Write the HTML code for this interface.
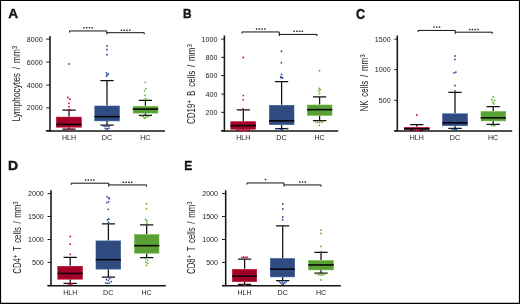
<!DOCTYPE html>
<html><head><meta charset="utf-8"><title>Figure</title>
<style>
html,body{margin:0;padding:0;background:#fff;}
body{width:520px;height:304px;overflow:hidden;font-family:"Liberation Sans", sans-serif;}
#fig{display:none;}
svg{position:absolute;left:0;top:0;display:block;will-change:transform;}
svg text{font-family:"Liberation Sans", sans-serif;fill:#1a1a1a;}
</style></head>
<body>
<svg width="520" height="304" viewBox="0 0 520 304">
<text x="0" y="0" font-size="12.8" font-weight="bold" fill="#000" stroke="#000" stroke-width="0.35" transform="translate(8.2 18.1) scale(1.07 1.02)">A</text>
<text id="yl0" transform="translate(20.0 121.6) rotate(-90) scale(0.8053 1)" font-size="10.3" word-spacing="2.0" xml:space="preserve"><tspan>Lymphocytes / mm</tspan><tspan font-size="8.03" dy="-2.6">3</tspan></text>
<path d="M50 36V131.5" stroke="#141414" stroke-width="1.55" fill="none"/>
<path d="M46.2 130.95H165" stroke="#151515" stroke-width="1.4" fill="none"/>
<path d="M46.2 39.1H50" stroke="#141414" stroke-width="0.95"/>
<text x="42.6" y="41.55" font-size="7.6" text-anchor="end" textLength="15.80" lengthAdjust="spacingAndGlyphs">8000</text>
<path d="M46.2 62.1H50" stroke="#141414" stroke-width="0.95"/>
<text x="42.6" y="64.55" font-size="7.6" text-anchor="end" textLength="15.80" lengthAdjust="spacingAndGlyphs">6000</text>
<path d="M46.2 85.1H50" stroke="#141414" stroke-width="0.95"/>
<text x="42.6" y="87.55" font-size="7.6" text-anchor="end" textLength="15.80" lengthAdjust="spacingAndGlyphs">4000</text>
<path d="M46.2 107.85H50" stroke="#141414" stroke-width="0.95"/>
<text x="42.6" y="110.3" font-size="7.6" text-anchor="end" textLength="15.80" lengthAdjust="spacingAndGlyphs">2000</text>
<path d="M46.2 130.6H50" stroke="#141414" stroke-width="0.95"/>
<path d="M69.5 32.35V30.75H106.75V34.1M106.75 32.5H144.25V34.1" stroke="#111" stroke-width="1.0" fill="none" transform="translate(0 0.2)"/>
<rect x="83.17" y="26.95" width="1.6" height="1.6" rx="0.5" fill="#2a2a2a"/>
<rect x="85.92" y="26.95" width="1.6" height="1.6" rx="0.5" fill="#2a2a2a"/>
<rect x="88.67" y="26.95" width="1.6" height="1.6" rx="0.5" fill="#2a2a2a"/>
<rect x="91.42" y="26.95" width="1.6" height="1.6" rx="0.5" fill="#2a2a2a"/>
<rect x="120.67" y="29.45" width="1.6" height="1.6" rx="0.5" fill="#2a2a2a"/>
<rect x="123.42" y="29.45" width="1.6" height="1.6" rx="0.5" fill="#2a2a2a"/>
<rect x="126.17" y="29.45" width="1.6" height="1.6" rx="0.5" fill="#2a2a2a"/>
<rect x="128.92" y="29.45" width="1.6" height="1.6" rx="0.5" fill="#2a2a2a"/>
<path d="M69 110V116.6M69 127.3V129M62.375 110H75.625M62.375 129H75.625" stroke="#111" stroke-width="1.25" fill="none"/>
<rect x="56.4" y="117.1" width="24.89999999999999" height="10.100000000000003" fill="#A30028" stroke="#BE0F30" stroke-width="0.6"/>
<path d="M56.1 124.45H81.6" stroke="#050505" stroke-width="1.55"/>
<path d="M107 80.6V105.5M107 121V125M100.375 80.6H113.625M100.375 125H113.625" stroke="#111" stroke-width="1.25" fill="none"/>
<rect x="94.8" y="106.0" width="24.6" height="14.9" fill="#2F4B80" stroke="#3A5A9C" stroke-width="0.6"/>
<path d="M94.5 116.65H119.7" stroke="#050505" stroke-width="1.55"/>
<path d="M145.4 100.4V105.8M145.4 113.2V115.3M138.775 100.4H152.025M138.775 115.3H152.025" stroke="#111" stroke-width="1.25" fill="none"/>
<rect x="133.10000000000002" y="106.3" width="24.799999999999976" height="6.800000000000006" fill="#589F35" stroke="#76BB47" stroke-width="0.6"/>
<path d="M132.8 109.15H158.2" stroke="#050505" stroke-width="1.55"/>
<circle cx="69" cy="64" r="0.9" fill="#C4122F"/>
<circle cx="67.8" cy="97.5" r="0.9" fill="#C4122F"/>
<circle cx="69.8" cy="99.2" r="0.9" fill="#C4122F"/>
<circle cx="68.9" cy="103.3" r="0.9" fill="#C4122F"/>
<circle cx="68.9" cy="106.6" r="0.9" fill="#C4122F"/>
<circle cx="68.2" cy="109.8" r="0.9" fill="#C4122F"/>
<circle cx="69.8" cy="109.4" r="0.9" fill="#C4122F"/>
<circle cx="65.5" cy="129.6" r="0.9" fill="#C4122F"/>
<circle cx="67.5" cy="129.3" r="0.9" fill="#C4122F"/>
<circle cx="69.5" cy="129.7" r="0.9" fill="#C4122F"/>
<circle cx="71.5" cy="129.2" r="0.9" fill="#C4122F"/>
<circle cx="73" cy="129.5" r="0.9" fill="#C4122F"/>
<circle cx="107" cy="46" r="0.9" fill="#2B4C9B"/>
<circle cx="107" cy="49.75" r="0.9" fill="#2B4C9B"/>
<circle cx="107" cy="54.75" r="0.9" fill="#2B4C9B"/>
<circle cx="106.4" cy="72.8" r="0.9" fill="#2B4C9B"/>
<circle cx="108.3" cy="74" r="0.9" fill="#2B4C9B"/>
<circle cx="107.2" cy="75" r="0.9" fill="#2B4C9B"/>
<circle cx="106.5" cy="76.2" r="0.9" fill="#2B4C9B"/>
<circle cx="103.2" cy="125.8" r="0.9" fill="#2B4C9B"/>
<circle cx="105" cy="126.2" r="0.9" fill="#2B4C9B"/>
<circle cx="107" cy="126" r="0.9" fill="#2B4C9B"/>
<circle cx="109" cy="126.2" r="0.9" fill="#2B4C9B"/>
<circle cx="105.4" cy="128.4" r="0.9" fill="#2B4C9B"/>
<circle cx="107.2" cy="128.6" r="0.9" fill="#2B4C9B"/>
<circle cx="109" cy="128.3" r="0.9" fill="#2B4C9B"/>
<circle cx="107" cy="130" r="0.9" fill="#2B4C9B"/>
<circle cx="145.2" cy="82.3" r="0.9" fill="#63B42D"/>
<circle cx="145.9" cy="88.6" r="0.9" fill="#63B42D"/>
<circle cx="144.5" cy="90.8" r="0.9" fill="#63B42D"/>
<circle cx="145.1" cy="95.4" r="0.9" fill="#63B42D"/>
<circle cx="144.5" cy="99.6" r="0.9" fill="#63B42D"/>
<circle cx="146" cy="98.7" r="0.9" fill="#63B42D"/>
<circle cx="141.5" cy="116.2" r="0.9" fill="#63B42D"/>
<circle cx="143.3" cy="116.8" r="0.9" fill="#63B42D"/>
<circle cx="145.2" cy="117.6" r="0.9" fill="#63B42D"/>
<circle cx="147" cy="117" r="0.9" fill="#63B42D"/>
<circle cx="148.8" cy="116.3" r="0.9" fill="#63B42D"/>
<circle cx="144.4" cy="118.3" r="0.9" fill="#63B42D"/>
<text x="69" y="140.25" font-size="7.4" text-anchor="middle" textLength="14.0" lengthAdjust="spacingAndGlyphs">HLH</text>
<text x="107" y="140.25" font-size="7.4" text-anchor="middle" textLength="10.4" lengthAdjust="spacingAndGlyphs">DC</text>
<text x="145.3" y="140.25" font-size="7.4" text-anchor="middle" textLength="10.2" lengthAdjust="spacingAndGlyphs">HC</text>
<text x="0" y="0" font-size="12.8" font-weight="bold" fill="#000" stroke="#000" stroke-width="0.35" transform="translate(182.9 18.1) scale(0.93 1.02)">B</text>
<text id="yl1" transform="translate(194.6 124.0) rotate(-90) scale(0.7811 1)" font-size="10.3" word-spacing="2.0" xml:space="preserve"><tspan>CD19</tspan><tspan font-size="8.03" dy="-2.6">+</tspan><tspan dy="2.6"> B cells / mm</tspan><tspan font-size="8.03" dy="-2.6">3</tspan></text>
<path d="M224.4 35.5V131.5" stroke="#141414" stroke-width="1.55" fill="none"/>
<path d="M221.2 130.95H338.3" stroke="#151515" stroke-width="1.4" fill="none"/>
<path d="M221.2 39.1H224.4" stroke="#141414" stroke-width="0.95"/>
<text x="217.4" y="41.55" font-size="7.6" text-anchor="end" textLength="15.80" lengthAdjust="spacingAndGlyphs">1000</text>
<path d="M221.2 57.35H224.4" stroke="#141414" stroke-width="0.95"/>
<text x="217.4" y="59.8" font-size="7.6" text-anchor="end" textLength="11.85" lengthAdjust="spacingAndGlyphs">800</text>
<path d="M221.2 75.6H224.4" stroke="#141414" stroke-width="0.95"/>
<text x="217.4" y="78.05" font-size="7.6" text-anchor="end" textLength="11.85" lengthAdjust="spacingAndGlyphs">600</text>
<path d="M221.2 94.1H224.4" stroke="#141414" stroke-width="0.95"/>
<text x="217.4" y="96.55" font-size="7.6" text-anchor="end" textLength="11.85" lengthAdjust="spacingAndGlyphs">400</text>
<path d="M221.2 112.35H224.4" stroke="#141414" stroke-width="0.95"/>
<text x="217.4" y="114.8" font-size="7.6" text-anchor="end" textLength="11.85" lengthAdjust="spacingAndGlyphs">200</text>
<path d="M221.2 130.6H224.4" stroke="#141414" stroke-width="0.95"/>
<path d="M242 33.35V31.75H279.25V35.85M279.25 34.25H317V35.85" stroke="#111" stroke-width="1.0" fill="none" transform="translate(0 0.2)"/>
<rect x="255.82" y="28.20" width="1.6" height="1.6" rx="0.5" fill="#2a2a2a"/>
<rect x="258.57" y="28.20" width="1.6" height="1.6" rx="0.5" fill="#2a2a2a"/>
<rect x="261.32" y="28.20" width="1.6" height="1.6" rx="0.5" fill="#2a2a2a"/>
<rect x="264.07" y="28.20" width="1.6" height="1.6" rx="0.5" fill="#2a2a2a"/>
<rect x="293.32" y="30.45" width="1.6" height="1.6" rx="0.5" fill="#2a2a2a"/>
<rect x="296.07" y="30.45" width="1.6" height="1.6" rx="0.5" fill="#2a2a2a"/>
<rect x="298.82" y="30.45" width="1.6" height="1.6" rx="0.5" fill="#2a2a2a"/>
<rect x="301.57" y="30.45" width="1.6" height="1.6" rx="0.5" fill="#2a2a2a"/>
<path d="M243.3 109.8V121.2M243.3 129.3V130M236.675 109.8H249.925M236.675 130H249.925" stroke="#111" stroke-width="1.25" fill="none"/>
<rect x="230.8" y="121.7" width="24.9" height="7.500000000000009" fill="#A30028" stroke="#BE0F30" stroke-width="0.6"/>
<path d="M230.5 125.65H256" stroke="#050505" stroke-width="1.55"/>
<path d="M281.6 81.5V104.8M281.6 124.8V128.5M274.975 81.5H288.225M274.975 128.5H288.225" stroke="#111" stroke-width="1.25" fill="none"/>
<rect x="269.3" y="105.3" width="24.70000000000001" height="19.4" fill="#2F4B80" stroke="#3A5A9C" stroke-width="0.6"/>
<path d="M269 120.85000000000001H294.3" stroke="#050505" stroke-width="1.55"/>
<path d="M319.6 96.8V104.5M319.6 115.5V120.5M312.975 96.8H326.225M312.975 120.5H326.225" stroke="#111" stroke-width="1.25" fill="none"/>
<rect x="307.3" y="105.0" width="24.70000000000001" height="10.4" fill="#589F35" stroke="#76BB47" stroke-width="0.6"/>
<path d="M307 109.65H332.3" stroke="#050505" stroke-width="1.55"/>
<circle cx="243.25" cy="57.5" r="0.9" fill="#C4122F"/>
<circle cx="243.3" cy="95.6" r="0.9" fill="#C4122F"/>
<circle cx="243.2" cy="99.8" r="0.9" fill="#C4122F"/>
<circle cx="243" cy="108.8" r="0.9" fill="#C4122F"/>
<circle cx="238.6" cy="130.6" r="0.9" fill="#C4122F"/>
<circle cx="240.2" cy="130.7" r="0.9" fill="#C4122F"/>
<circle cx="241.8" cy="130.6" r="0.9" fill="#C4122F"/>
<circle cx="243.4" cy="130.7" r="0.9" fill="#C4122F"/>
<circle cx="245" cy="130.6" r="0.9" fill="#C4122F"/>
<circle cx="246.6" cy="130.7" r="0.9" fill="#C4122F"/>
<circle cx="248" cy="130.6" r="0.9" fill="#C4122F"/>
<circle cx="281.5" cy="51.25" r="0.9" fill="#2B4C9B"/>
<circle cx="281.4" cy="62.75" r="0.9" fill="#2B4C9B"/>
<circle cx="281.5" cy="74.5" r="0.9" fill="#2B4C9B"/>
<circle cx="280.6" cy="77.6" r="0.9" fill="#2B4C9B"/>
<circle cx="282.4" cy="78.2" r="0.9" fill="#2B4C9B"/>
<circle cx="281" cy="77" r="0.9" fill="#2B4C9B"/>
<circle cx="282.5" cy="77.6" r="0.9" fill="#2B4C9B"/>
<circle cx="276.5" cy="128.7" r="0.9" fill="#2B4C9B"/>
<circle cx="280.5" cy="129.4" r="0.9" fill="#2B4C9B"/>
<circle cx="282.5" cy="129.6" r="0.9" fill="#2B4C9B"/>
<circle cx="287.5" cy="128.6" r="0.9" fill="#2B4C9B"/>
<circle cx="319.5" cy="70.75" r="0.9" fill="#63B42D"/>
<circle cx="319.3" cy="88.4" r="0.9" fill="#63B42D"/>
<circle cx="320.2" cy="89.6" r="0.9" fill="#63B42D"/>
<circle cx="319" cy="91" r="0.9" fill="#63B42D"/>
<circle cx="319.5" cy="93.6" r="0.9" fill="#63B42D"/>
<circle cx="315.5" cy="121.8" r="0.9" fill="#63B42D"/>
<circle cx="317.5" cy="122.3" r="0.9" fill="#63B42D"/>
<circle cx="319.5" cy="122.5" r="0.9" fill="#63B42D"/>
<circle cx="321.5" cy="122" r="0.9" fill="#63B42D"/>
<circle cx="323" cy="121.5" r="0.9" fill="#63B42D"/>
<circle cx="319.3" cy="125.3" r="0.9" fill="#63B42D"/>
<text x="243.3" y="140.25" font-size="7.4" text-anchor="middle" textLength="14.0" lengthAdjust="spacingAndGlyphs">HLH</text>
<text x="281.5" y="140.25" font-size="7.4" text-anchor="middle" textLength="10.4" lengthAdjust="spacingAndGlyphs">DC</text>
<text x="319.6" y="140.25" font-size="7.4" text-anchor="middle" textLength="10.2" lengthAdjust="spacingAndGlyphs">HC</text>
<text x="0" y="0" font-size="12.8" font-weight="bold" fill="#000" stroke="#000" stroke-width="0.35" transform="translate(356.0 18.5) scale(0.98 1.08)">C</text>
<text id="yl2" transform="translate(367.6 111.6) rotate(-90) scale(0.7745 1)" font-size="10.3" word-spacing="2.0" xml:space="preserve"><tspan>NK cells / mm</tspan><tspan font-size="8.03" dy="-2.6">3</tspan></text>
<path d="M397.3 35.5V131.5" stroke="#141414" stroke-width="1.55" fill="none"/>
<path d="M394.3 130.95H512.2" stroke="#151515" stroke-width="1.4" fill="none"/>
<path d="M394.3 39.1H397.3" stroke="#141414" stroke-width="0.95"/>
<text x="390.6" y="41.55" font-size="7.6" text-anchor="end" textLength="15.80" lengthAdjust="spacingAndGlyphs">1500</text>
<path d="M394.3 69.6H397.3" stroke="#141414" stroke-width="0.95"/>
<text x="390.6" y="72.05" font-size="7.6" text-anchor="end" textLength="15.80" lengthAdjust="spacingAndGlyphs">1000</text>
<path d="M394.3 100.3H397.3" stroke="#141414" stroke-width="0.95"/>
<text x="390.6" y="102.75" font-size="7.6" text-anchor="end" textLength="11.85" lengthAdjust="spacingAndGlyphs">500</text>
<path d="M394.3 130.6H397.3" stroke="#141414" stroke-width="0.95"/>
<path d="M418 31.85V30.25H455.25V33.6M455.25 32H492.25V33.6" stroke="#111" stroke-width="1.0" fill="none" transform="translate(0 0.2)"/>
<rect x="433.20" y="26.20" width="1.6" height="1.6" rx="0.5" fill="#2a2a2a"/>
<rect x="435.95" y="26.20" width="1.6" height="1.6" rx="0.5" fill="#2a2a2a"/>
<rect x="438.70" y="26.20" width="1.6" height="1.6" rx="0.5" fill="#2a2a2a"/>
<rect x="468.82" y="28.70" width="1.6" height="1.6" rx="0.5" fill="#2a2a2a"/>
<rect x="471.57" y="28.70" width="1.6" height="1.6" rx="0.5" fill="#2a2a2a"/>
<rect x="474.32" y="28.70" width="1.6" height="1.6" rx="0.5" fill="#2a2a2a"/>
<rect x="477.07" y="28.70" width="1.6" height="1.6" rx="0.5" fill="#2a2a2a"/>
<path d="M416.8 124.5V126.8M416.8 129.8V130.2M410.175 124.5H423.425M410.175 130.2H423.425" stroke="#111" stroke-width="1.25" fill="none"/>
<rect x="404.3" y="127.3" width="24.9" height="2.400000000000014" fill="#A30028" stroke="#BE0F30" stroke-width="0.6"/>
<path d="M404 128.75H429.5" stroke="#050505" stroke-width="1.55"/>
<path d="M455 92.25V113.3M455 125.8V128.3M448.375 92.25H461.625M448.375 128.3H461.625" stroke="#111" stroke-width="1.25" fill="none"/>
<rect x="442.6" y="113.8" width="24.799999999999976" height="11.9" fill="#2F4B80" stroke="#3A5A9C" stroke-width="0.6"/>
<path d="M442.3 122.85000000000001H467.7" stroke="#050505" stroke-width="1.55"/>
<path d="M493.2 106.5V111M493.2 121V124.3M486.575 106.5H499.825M486.575 124.3H499.825" stroke="#111" stroke-width="1.25" fill="none"/>
<rect x="481.0" y="111.5" width="24.70000000000001" height="9.4" fill="#589F35" stroke="#76BB47" stroke-width="0.6"/>
<path d="M480.7 117.85000000000001H506" stroke="#050505" stroke-width="1.55"/>
<circle cx="416.75" cy="115" r="0.9" fill="#C4122F"/>
<circle cx="414.5" cy="130" r="0.9" fill="#C4122F"/>
<circle cx="416.5" cy="130.2" r="0.9" fill="#C4122F"/>
<circle cx="418.5" cy="130" r="0.9" fill="#C4122F"/>
<circle cx="455" cy="56" r="0.9" fill="#2B4C9B"/>
<circle cx="455" cy="59.5" r="0.9" fill="#2B4C9B"/>
<circle cx="454" cy="72.8" r="0.9" fill="#2B4C9B"/>
<circle cx="455.8" cy="72.2" r="0.9" fill="#2B4C9B"/>
<circle cx="455" cy="85.5" r="0.9" fill="#2B4C9B"/>
<circle cx="455" cy="91" r="0.9" fill="#2B4C9B"/>
<circle cx="452.5" cy="129.2" r="0.9" fill="#2B4C9B"/>
<circle cx="454.5" cy="129.6" r="0.9" fill="#2B4C9B"/>
<circle cx="456.5" cy="129.3" r="0.9" fill="#2B4C9B"/>
<circle cx="455.5" cy="130" r="0.9" fill="#2B4C9B"/>
<circle cx="493.3" cy="97" r="0.9" fill="#63B42D"/>
<circle cx="491.8" cy="99.6" r="0.9" fill="#63B42D"/>
<circle cx="494.8" cy="100.3" r="0.9" fill="#63B42D"/>
<circle cx="492.9" cy="102" r="0.9" fill="#63B42D"/>
<circle cx="493.9" cy="103.7" r="0.9" fill="#63B42D"/>
<circle cx="491.5" cy="125.3" r="0.9" fill="#63B42D"/>
<circle cx="493.3" cy="125.8" r="0.9" fill="#63B42D"/>
<circle cx="495" cy="125.3" r="0.9" fill="#63B42D"/>
<text x="416.8" y="140.25" font-size="7.4" text-anchor="middle" textLength="14.0" lengthAdjust="spacingAndGlyphs">HLH</text>
<text x="455" y="140.25" font-size="7.4" text-anchor="middle" textLength="10.4" lengthAdjust="spacingAndGlyphs">DC</text>
<text x="493.1" y="140.25" font-size="7.4" text-anchor="middle" textLength="10.2" lengthAdjust="spacingAndGlyphs">HC</text>
<text x="0" y="0" font-size="12.8" font-weight="bold" fill="#000" stroke="#000" stroke-width="0.35" transform="translate(8.0 170.3) scale(1.09 1.02)">D</text>
<text id="yl3" transform="translate(21 273.75) rotate(-90) scale(0.7572 1)" font-size="10.3" word-spacing="2.0" xml:space="preserve"><tspan>CD4</tspan><tspan font-size="8.03" dy="-2.6">+</tspan><tspan dy="2.6"> T cells / mm</tspan><tspan font-size="8.03" dy="-2.6">3</tspan></text>
<path d="M51 190.2V286.3" stroke="#141414" stroke-width="1.55" fill="none"/>
<path d="M47.5 285.75H165.8" stroke="#151515" stroke-width="1.4" fill="none"/>
<path d="M47.5 193.6H51" stroke="#141414" stroke-width="0.95"/>
<text x="43.8" y="196.05" font-size="7.6" text-anchor="end" textLength="15.80" lengthAdjust="spacingAndGlyphs">2000</text>
<path d="M47.5 216.5H51" stroke="#141414" stroke-width="0.95"/>
<text x="43.8" y="218.95000000000002" font-size="7.6" text-anchor="end" textLength="15.80" lengthAdjust="spacingAndGlyphs">1500</text>
<path d="M47.5 239.5H51" stroke="#141414" stroke-width="0.95"/>
<text x="43.8" y="241.95000000000002" font-size="7.6" text-anchor="end" textLength="15.80" lengthAdjust="spacingAndGlyphs">1000</text>
<path d="M47.5 262.40000000000003H51" stroke="#141414" stroke-width="0.95"/>
<text x="43.8" y="264.85" font-size="7.6" text-anchor="end" textLength="11.85" lengthAdjust="spacingAndGlyphs">500</text>
<path d="M47.5 285.40000000000003H51" stroke="#141414" stroke-width="0.95"/>
<path d="M71.25 184.6V183H108.75V186.35M108.75 184.75H146.5V186.35" stroke="#111" stroke-width="1.0" fill="none" transform="translate(0 0.2)"/>
<rect x="84.83" y="179.20" width="1.6" height="1.6" rx="0.5" fill="#2a2a2a"/>
<rect x="87.58" y="179.20" width="1.6" height="1.6" rx="0.5" fill="#2a2a2a"/>
<rect x="90.33" y="179.20" width="1.6" height="1.6" rx="0.5" fill="#2a2a2a"/>
<rect x="93.08" y="179.20" width="1.6" height="1.6" rx="0.5" fill="#2a2a2a"/>
<rect x="122.58" y="181.45" width="1.6" height="1.6" rx="0.5" fill="#2a2a2a"/>
<rect x="125.33" y="181.45" width="1.6" height="1.6" rx="0.5" fill="#2a2a2a"/>
<rect x="128.07" y="181.45" width="1.6" height="1.6" rx="0.5" fill="#2a2a2a"/>
<rect x="130.82" y="181.45" width="1.6" height="1.6" rx="0.5" fill="#2a2a2a"/>
<path d="M70.2 257.3V265.8M70.2 279.3V283.3M63.575 257.3H76.825M63.575 283.3H76.825" stroke="#111" stroke-width="1.25" fill="none"/>
<rect x="57.8" y="266.3" width="24.699999999999996" height="12.9" fill="#A30028" stroke="#BE0F30" stroke-width="0.6"/>
<path d="M57.5 273.45H82.8" stroke="#050505" stroke-width="1.55"/>
<path d="M108.4 223.8V240.4M108.4 269.2V277M101.775 223.8H115.025M101.775 277H115.025" stroke="#111" stroke-width="1.25" fill="none"/>
<rect x="96.0" y="240.9" width="24.699999999999996" height="28.19999999999998" fill="#2F4B80" stroke="#3A5A9C" stroke-width="0.6"/>
<path d="M95.7 259.65H121" stroke="#050505" stroke-width="1.55"/>
<path d="M146.7 224.8V234M146.7 253.3V257.5M140.075 224.8H153.325M140.075 257.5H153.325" stroke="#111" stroke-width="1.25" fill="none"/>
<rect x="134.5" y="234.5" width="24.50000000000002" height="18.70000000000001" fill="#589F35" stroke="#76BB47" stroke-width="0.6"/>
<path d="M134.2 245.65H159.3" stroke="#050505" stroke-width="1.55"/>
<circle cx="70.25" cy="236.5" r="0.9" fill="#C4122F"/>
<circle cx="70.2" cy="244.2" r="0.9" fill="#C4122F"/>
<circle cx="70.2" cy="254.3" r="0.9" fill="#C4122F"/>
<circle cx="68.5" cy="284" r="0.9" fill="#C4122F"/>
<circle cx="70.2" cy="284.3" r="0.9" fill="#C4122F"/>
<circle cx="72" cy="284" r="0.9" fill="#C4122F"/>
<circle cx="107" cy="196.8" r="0.9" fill="#2B4C9B"/>
<circle cx="108.8" cy="198" r="0.9" fill="#2B4C9B"/>
<circle cx="106.8" cy="202.6" r="0.9" fill="#2B4C9B"/>
<circle cx="108.6" cy="201.8" r="0.9" fill="#2B4C9B"/>
<circle cx="109.3" cy="198.6" r="0.9" fill="#2B4C9B"/>
<circle cx="108.3" cy="209.3" r="0.9" fill="#2B4C9B"/>
<circle cx="107.3" cy="219.8" r="0.9" fill="#2B4C9B"/>
<circle cx="108.8" cy="219" r="0.9" fill="#2B4C9B"/>
<circle cx="108.4" cy="222.2" r="0.9" fill="#2B4C9B"/>
<circle cx="106.5" cy="279.4" r="0.9" fill="#2B4C9B"/>
<circle cx="109.75" cy="278.5" r="0.9" fill="#2B4C9B"/>
<circle cx="108.3" cy="280.3" r="0.9" fill="#2B4C9B"/>
<circle cx="111.2" cy="281.6" r="0.9" fill="#2B4C9B"/>
<circle cx="105.8" cy="282.9" r="0.9" fill="#2B4C9B"/>
<circle cx="107.6" cy="283.4" r="0.9" fill="#2B4C9B"/>
<circle cx="109.4" cy="283.1" r="0.9" fill="#2B4C9B"/>
<circle cx="146.5" cy="203.75" r="0.9" fill="#63B42D"/>
<circle cx="146.5" cy="208.75" r="0.9" fill="#63B42D"/>
<circle cx="145.6" cy="219.5" r="0.9" fill="#63B42D"/>
<circle cx="147" cy="221" r="0.9" fill="#63B42D"/>
<circle cx="146.8" cy="223.3" r="0.9" fill="#63B42D"/>
<circle cx="145.4" cy="258.8" r="0.9" fill="#63B42D"/>
<circle cx="147.5" cy="260.3" r="0.9" fill="#63B42D"/>
<circle cx="145.8" cy="262.2" r="0.9" fill="#63B42D"/>
<circle cx="147.7" cy="263.3" r="0.9" fill="#63B42D"/>
<circle cx="146.5" cy="265.4" r="0.9" fill="#63B42D"/>
<text x="70.2" y="294.9" font-size="7.4" text-anchor="middle" textLength="14.0" lengthAdjust="spacingAndGlyphs">HLH</text>
<text x="108.3" y="294.9" font-size="7.4" text-anchor="middle" textLength="10.4" lengthAdjust="spacingAndGlyphs">DC</text>
<text x="146.6" y="294.9" font-size="7.4" text-anchor="middle" textLength="10.2" lengthAdjust="spacingAndGlyphs">HC</text>
<text x="0" y="0" font-size="12.8" font-weight="bold" fill="#000" stroke="#000" stroke-width="0.35" transform="translate(184.2 170.3) scale(0.93 1.02)">E</text>
<text id="yl4" transform="translate(195 274) rotate(-90) scale(0.7598 1)" font-size="10.3" word-spacing="2.0" xml:space="preserve"><tspan>CD8</tspan><tspan font-size="8.03" dy="-2.6">+</tspan><tspan dy="2.6"> T cells / mm</tspan><tspan font-size="8.03" dy="-2.6">3</tspan></text>
<path d="M225.7 190.2V286.3" stroke="#141414" stroke-width="1.55" fill="none"/>
<path d="M222 285.75H340.8" stroke="#151515" stroke-width="1.4" fill="none"/>
<path d="M222 193.6H225.7" stroke="#141414" stroke-width="0.95"/>
<text x="218" y="196.05" font-size="7.6" text-anchor="end" textLength="15.80" lengthAdjust="spacingAndGlyphs">2000</text>
<path d="M222 216.5H225.7" stroke="#141414" stroke-width="0.95"/>
<text x="218" y="218.95000000000002" font-size="7.6" text-anchor="end" textLength="15.80" lengthAdjust="spacingAndGlyphs">1500</text>
<path d="M222 239.5H225.7" stroke="#141414" stroke-width="0.95"/>
<text x="218" y="241.95000000000002" font-size="7.6" text-anchor="end" textLength="15.80" lengthAdjust="spacingAndGlyphs">1000</text>
<path d="M222 262.40000000000003H225.7" stroke="#141414" stroke-width="0.95"/>
<text x="218" y="264.85" font-size="7.6" text-anchor="end" textLength="11.85" lengthAdjust="spacingAndGlyphs">500</text>
<path d="M222 285.40000000000003H225.7" stroke="#141414" stroke-width="0.95"/>
<path d="M247 184.35V182.75H284V186.35M284 184.75H321V186.35" stroke="#111" stroke-width="1.0" fill="none" transform="translate(0 0.2)"/>
<rect x="264.70" y="178.70" width="1.6" height="1.6" rx="0.5" fill="#2a2a2a"/>
<rect x="298.95" y="181.20" width="1.6" height="1.6" rx="0.5" fill="#2a2a2a"/>
<rect x="301.70" y="181.20" width="1.6" height="1.6" rx="0.5" fill="#2a2a2a"/>
<rect x="304.45" y="181.20" width="1.6" height="1.6" rx="0.5" fill="#2a2a2a"/>
<path d="M244.6 259V268.8M244.6 281.8V284.3M237.975 259H251.225M237.975 284.3H251.225" stroke="#111" stroke-width="1.25" fill="none"/>
<rect x="232.3" y="269.3" width="24.4" height="12.4" fill="#A30028" stroke="#BE0F30" stroke-width="0.6"/>
<path d="M232 276.15H257" stroke="#050505" stroke-width="1.55"/>
<path d="M282.7 225.8V258M282.7 277V280.5M276.075 225.8H289.325M276.075 280.5H289.325" stroke="#111" stroke-width="1.25" fill="none"/>
<rect x="270.3" y="258.5" width="24.4" height="18.4" fill="#2F4B80" stroke="#3A5A9C" stroke-width="0.6"/>
<path d="M270 269.15H295" stroke="#050505" stroke-width="1.55"/>
<path d="M321 252.3V260M321 270V273M314.375 252.3H327.625M314.375 273H327.625" stroke="#111" stroke-width="1.25" fill="none"/>
<rect x="308.5" y="260.5" width="25.00000000000002" height="9.4" fill="#589F35" stroke="#76BB47" stroke-width="0.6"/>
<path d="M308.2 264.95H333.8" stroke="#050505" stroke-width="1.55"/>
<circle cx="242" cy="257.3" r="0.9" fill="#C4122F"/>
<circle cx="243.7" cy="257.2" r="0.9" fill="#C4122F"/>
<circle cx="245.4" cy="257.3" r="0.9" fill="#C4122F"/>
<circle cx="247" cy="257.2" r="0.9" fill="#C4122F"/>
<circle cx="243.5" cy="284.7" r="0.9" fill="#C4122F"/>
<circle cx="245.5" cy="284.8" r="0.9" fill="#C4122F"/>
<circle cx="282.75" cy="204" r="0.9" fill="#2B4C9B"/>
<circle cx="282.75" cy="209" r="0.9" fill="#2B4C9B"/>
<circle cx="282.75" cy="217" r="0.9" fill="#2B4C9B"/>
<circle cx="282.6" cy="219.75" r="0.9" fill="#2B4C9B"/>
<circle cx="279.3" cy="281.5" r="0.9" fill="#2B4C9B"/>
<circle cx="286.2" cy="281.5" r="0.9" fill="#2B4C9B"/>
<circle cx="280.6" cy="282.8" r="0.9" fill="#2B4C9B"/>
<circle cx="284.9" cy="282.8" r="0.9" fill="#2B4C9B"/>
<circle cx="282" cy="284" r="0.9" fill="#2B4C9B"/>
<circle cx="283.5" cy="284" r="0.9" fill="#2B4C9B"/>
<circle cx="282.7" cy="282.2" r="0.9" fill="#2B4C9B"/>
<circle cx="321" cy="230.2" r="0.9" fill="#63B42D"/>
<circle cx="321" cy="233.5" r="0.9" fill="#63B42D"/>
<circle cx="321" cy="246.4" r="0.9" fill="#63B42D"/>
<circle cx="321.3" cy="251.5" r="0.9" fill="#63B42D"/>
<circle cx="317.5" cy="274" r="0.9" fill="#63B42D"/>
<circle cx="319" cy="274.8" r="0.9" fill="#63B42D"/>
<circle cx="321" cy="275.2" r="0.9" fill="#63B42D"/>
<circle cx="323" cy="274.8" r="0.9" fill="#63B42D"/>
<circle cx="324.5" cy="274" r="0.9" fill="#63B42D"/>
<circle cx="321" cy="280" r="0.9" fill="#63B42D"/>
<text x="244.5" y="294.9" font-size="7.4" text-anchor="middle" textLength="14.0" lengthAdjust="spacingAndGlyphs">HLH</text>
<text x="282.75" y="294.9" font-size="7.4" text-anchor="middle" textLength="10.4" lengthAdjust="spacingAndGlyphs">DC</text>
<text x="321" y="294.9" font-size="7.4" text-anchor="middle" textLength="10.2" lengthAdjust="spacingAndGlyphs">HC</text>
<path d="M0 0H520V304H0Z M1.1 1.05V302.8H518.9V1.05Z" fill="#000" fill-rule="evenodd"/>
</svg>
<div id="fig"></div>
</body></html>
